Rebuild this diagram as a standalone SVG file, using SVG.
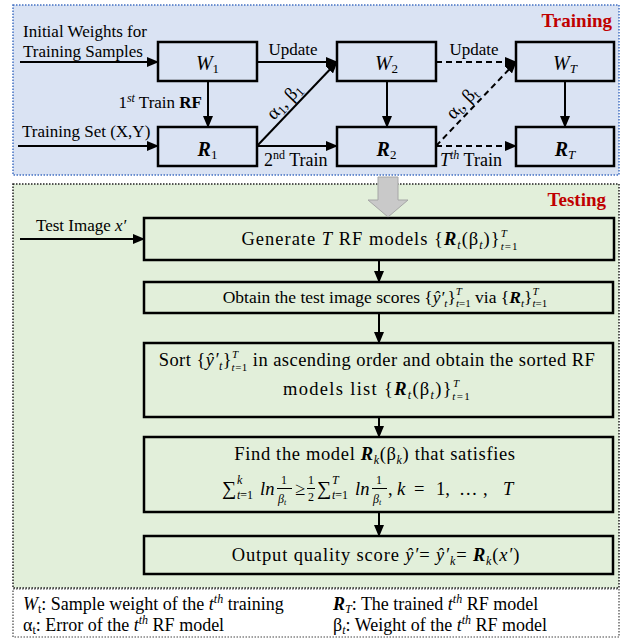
<svg xmlns="http://www.w3.org/2000/svg" width="630" height="639" viewBox="0 0 630 639">
<style>
text{font-family:"Liberation Serif","Times New Roman",serif;fill:#000}
.t17{font-size:17px}
.t18{font-size:18px}
.bt{font-size:18.5px}
.lg{font-size:18px}
.it{font-style:italic}
.bi{font-style:italic;font-weight:bold}
.b{font-weight:bold}
.sm{font-size:11px}
.s12{font-size:12px}
.box{fill:#dae3f3;stroke:#000;stroke-width:2.5}
.tbox{fill:#e2efda;stroke:#000;stroke-width:2.5}
.ln{stroke:#000;stroke-width:2;fill:none}
.dash{stroke-dasharray:6 4}
.fb{stroke:#000;stroke-width:1}
.red{fill:#c00000;font-weight:bold;font-size:19px}
</style>
<defs>
<marker id="ah" markerUnits="userSpaceOnUse" markerWidth="12" markerHeight="10" refX="11" refY="5" orient="auto">
<path d="M0,0 L12,5 L0,10 Z" fill="#000"/>
</marker>
</defs>

<g id="training-panel">
<rect x="13" y="5" width="606" height="170" fill="#dae3f3" stroke="#4472c4" stroke-width="1.5" stroke-dasharray="1.5 1.5"/>
<text x="612" y="27" class="red" text-anchor="end">Training</text>
</g>
<g id="testing-panel">
<rect x="13" y="184" width="606" height="404" fill="#e2efda" stroke="#222" stroke-width="1.5" stroke-dasharray="1.5 1.5"/>
<text x="606" y="206" class="red" text-anchor="end">Testing</text>
</g>
<g id="legend">
<rect x="13" y="589" width="606" height="48" fill="#fff" stroke="#444" stroke-width="1.2" stroke-dasharray="1.5 1.5"/>
<text x="23" y="610" class="lg"><tspan class="it">W</tspan><tspan class="s12" dy="3">t</tspan><tspan dy="-3">: Sample weight of the </tspan><tspan class="it">t</tspan><tspan class="s12 it" dy="-7">th</tspan><tspan dy="7"> training</tspan></text>
<text x="23" y="631" class="lg">α<tspan class="s12" dy="3">t</tspan><tspan dy="-3">: Error of the </tspan><tspan class="it">t</tspan><tspan class="s12 it" dy="-7">th</tspan><tspan dy="7"> RF model</tspan></text>
<text x="333" y="610" class="lg"><tspan class="bi">R</tspan><tspan class="s12 it" dy="3">T</tspan><tspan dy="-3">: The trained </tspan><tspan class="it">t</tspan><tspan class="s12 it" dy="-7">th</tspan><tspan dy="7"> RF model</tspan></text>
<text x="333" y="631" class="lg">β<tspan class="s12 it" dy="3">t</tspan><tspan dy="-3">: Weight of the </tspan><tspan class="it">t</tspan><tspan class="s12 it" dy="-7">th</tspan><tspan dy="7"> RF model</tspan></text>
</g>

<g id="node-W1"><rect class="box" x="158" y="42" width="99" height="39"/><text x="207.5" y="70" font-size="20" text-anchor="middle"><tspan class="it">W</tspan><tspan font-size="13" dy="3">1</tspan></text></g>
<g id="node-R1"><rect class="box" x="158" y="127" width="99" height="39"/><text x="207.5" y="156" font-size="20" text-anchor="middle"><tspan class="bi">R</tspan><tspan font-size="13" dy="3">1</tspan></text></g>
<g id="node-W2"><rect class="box" x="337" y="42" width="99" height="39"/><text x="386.5" y="70" font-size="20" text-anchor="middle"><tspan class="it">W</tspan><tspan font-size="13" dy="3">2</tspan></text></g>
<g id="node-R2"><rect class="box" x="337" y="127" width="99" height="39"/><text x="386.5" y="156" font-size="20" text-anchor="middle"><tspan class="bi">R</tspan><tspan font-size="13" dy="3">2</tspan></text></g>
<g id="node-WT"><rect class="box" x="516" y="42" width="98" height="39"/><text x="565" y="70" font-size="20" text-anchor="middle"><tspan class="it">W</tspan><tspan font-size="13" class="it" dy="3">T</tspan></text></g>
<g id="node-RT"><rect class="box" x="516" y="127" width="98" height="39"/><text x="565" y="156" font-size="20" text-anchor="middle"><tspan class="bi">R</tspan><tspan font-size="13" class="it" dy="3">T</tspan></text></g>

<g id="node-generate"><rect class="tbox" x="144" y="218" width="470" height="42"/>
<text x="380" y="245" class="bt" letter-spacing="1" text-anchor="middle">Generate <tspan class="it">T</tspan> RF models {<tspan class="bi">R</tspan><tspan class="s12 it" dy="4">t</tspan><tspan dy="-4">(β</tspan><tspan class="s12 it" dy="4">t</tspan><tspan dy="-4">)}</tspan><tspan class="sm it" dy="-8">T</tspan><tspan class="sm" dx="-7" dy="13"><tspan class="it">t</tspan>=1</tspan></text></g>
<g id="node-obtain"><rect class="tbox" x="144" y="282" width="469" height="31"/>
<text x="385" y="303" font-size="17.5" text-anchor="middle">Obtain the test image scores {<tspan class="it">ŷ′</tspan><tspan class="sm it" dy="4">t</tspan><tspan dy="-4">}</tspan><tspan class="sm it" dy="-8">T</tspan><tspan class="sm" dx="-6" dy="12"><tspan class="it">t</tspan>=1</tspan><tspan dy="-4"> via {</tspan><tspan class="bi">R</tspan><tspan class="sm it" dy="4">t</tspan><tspan dy="-4">}</tspan><tspan class="sm it" dy="-8">T</tspan><tspan class="sm" dx="-6" dy="12"><tspan class="it">t</tspan>=1</tspan></text></g>
<g id="node-sort"><rect class="tbox" x="144" y="343" width="469" height="74"/>
<text x="377" y="366" class="bt" letter-spacing="0.45" text-anchor="middle">Sort {<tspan class="it">ŷ′</tspan><tspan class="s12 it" dy="4">t</tspan><tspan dy="-4">}</tspan><tspan class="sm it" dy="-8">T</tspan><tspan class="sm" dx="-7" dy="13"><tspan class="it">t</tspan>=1</tspan><tspan dy="-5"> in ascending order and obtain the sorted RF</tspan></text>
<text x="377" y="395" class="bt" letter-spacing="1.3" text-anchor="middle">models list  {<tspan class="bi">R</tspan><tspan class="s12 it" dy="4">t</tspan><tspan dy="-4">(β</tspan><tspan class="s12 it" dy="4">t</tspan><tspan dy="-4">)}</tspan><tspan class="sm it" dy="-8">T</tspan><tspan class="sm" dx="-8" dy="13"><tspan class="it">t</tspan>=1</tspan></text></g>
<g id="node-find"><rect class="tbox" x="144" y="437" width="469" height="75"/>
<text x="375" y="460" class="bt" letter-spacing="0.65" text-anchor="middle">Find the model <tspan class="bi">R</tspan><tspan class="s12 it" dy="4">k</tspan><tspan dy="-4">(β</tspan><tspan class="s12 it" dy="4">k</tspan><tspan dy="-4">) that satisfies</tspan></text>
<text x="222" y="495" font-size="20">∑</text>
<text x="237" y="484" class="s12 it">k</text>
<text x="237" y="499" class="s12"><tspan class="it">t</tspan>=1</text>
<text x="260" y="495" class="bt it">ln</text>
<text x="281" y="484" class="s12">1</text>
<line class="fb" x1="277" y1="488.5" x2="292" y2="488.5"/>
<text x="278" y="503" class="s12 it">β<tspan font-size="8" dy="2">t</tspan></text>
<text x="295" y="495" class="bt">≥</text>
<text x="308" y="484" class="s12">1</text>
<line class="fb" x1="307" y1="488.5" x2="315" y2="488.5"/>
<text x="308" y="501" class="s12">2</text>
<text x="317" y="495" font-size="20">∑</text>
<text x="332" y="484" class="s12 it">T</text>
<text x="332" y="499" class="s12"><tspan class="it">t</tspan>=1</text>
<text x="355" y="495" class="bt it">ln</text>
<text x="376" y="484" class="s12">1</text>
<line class="fb" x1="372" y1="488.5" x2="387" y2="488.5"/>
<text x="373" y="503" class="s12 it">β<tspan font-size="8" dy="2">t</tspan></text>
<text x="388" y="495" class="bt">,</text>
<text x="397" y="495" class="bt it">k</text>
<text x="414" y="495" class="bt">=</text>
<text x="436" y="495" class="bt">1,</text>
<text x="459" y="495" class="bt">…</text>
<text x="483" y="495" class="bt">,</text>
<text x="503" y="495" class="bt it">T</text>
</g>
<g id="node-output"><rect class="tbox" x="144" y="536" width="469" height="38"/>
<text x="376" y="561" class="bt" letter-spacing="0.85" text-anchor="middle">Output quality score <tspan class="it">ŷ′</tspan>= <tspan class="it">ŷ′</tspan><tspan class="s12 it" dy="4">k</tspan><tspan dy="-4">= </tspan><tspan class="bi">R</tspan><tspan class="s12 it" dy="4">k</tspan><tspan dy="-4">(</tspan><tspan class="it">x′</tspan>)</text></g>

<g id="connectors">
<polygon points="378,177 398,177 398,200 408,200 388,217 368,200 378,200" fill="#c9c9c9" stroke="#a6a6a6" stroke-width="1"/>
<line class="ln" x1="20" y1="62" x2="158" y2="62" marker-end="url(#ah)"/>
<line class="ln" x1="18" y1="146" x2="158" y2="146" marker-end="url(#ah)"/>
<line class="ln" x1="208" y1="81" x2="208" y2="127" marker-end="url(#ah)"/>
<line class="ln" x1="257" y1="62" x2="337" y2="62" marker-end="url(#ah)"/>
<line class="ln" x1="257" y1="146" x2="337" y2="62" marker-end="url(#ah)"/>
<line class="ln" x1="257" y1="146" x2="337" y2="146" marker-end="url(#ah)"/>
<line class="ln" x1="387" y1="81" x2="387" y2="127" marker-end="url(#ah)"/>
<line class="ln dash" x1="436" y1="62" x2="516" y2="62" marker-end="url(#ah)"/>
<line class="ln dash" x1="436" y1="146" x2="516" y2="62" marker-end="url(#ah)"/>
<line class="ln dash" x1="436" y1="146" x2="516" y2="146" marker-end="url(#ah)"/>
<line class="ln" x1="565" y1="81" x2="565" y2="127" marker-end="url(#ah)"/>
<line class="ln" x1="20" y1="239" x2="144" y2="239" marker-end="url(#ah)"/>
<line class="ln" x1="379" y1="260" x2="379" y2="282" marker-end="url(#ah)"/>
<line class="ln" x1="379" y1="313" x2="379" y2="343" marker-end="url(#ah)"/>
<line class="ln" x1="379" y1="417" x2="379" y2="437" marker-end="url(#ah)"/>
<line class="ln" x1="379" y1="512" x2="379" y2="536" marker-end="url(#ah)"/>
<text x="23" y="37" class="t17">Initial Weights for</text>
<text x="23" y="57" class="t17">Training Samples</text>
<text x="22" y="137" class="t17">Training Set (X,Y)</text>
<text x="202" y="108" class="t17" text-anchor="end">1<tspan class="s12 it" dy="-6">st</tspan><tspan dy="6"> Train </tspan><tspan class="b">RF</tspan></text>
<text x="293" y="55" class="t17" text-anchor="middle">Update</text>
<text x="474" y="55" class="t17" text-anchor="middle">Update</text>
<text x="264" y="166" class="t18">2<tspan class="s12" dy="-7">nd</tspan><tspan dy="7"> Train</tspan></text>
<text x="440" y="166" class="t18"><tspan class="it">T</tspan><tspan class="s12 it" dy="-7">th</tspan><tspan dy="7"> Train</tspan></text>
<text transform="translate(288.5,105.5) rotate(-46.4)" font-size="19" text-anchor="middle">α<tspan font-size="13" dy="3">1</tspan><tspan dy="-3">, β</tspan><tspan font-size="13" dy="3">1</tspan></text>
<text transform="translate(466,107) rotate(-46.4)" font-size="19" text-anchor="middle">α<tspan font-size="13" dy="3">t</tspan><tspan dy="-3">, β</tspan><tspan font-size="13" dy="3">t</tspan></text>
<text x="36" y="231" class="t17">Test Image <tspan class="it">x′</tspan></text>
</g>
</svg>
